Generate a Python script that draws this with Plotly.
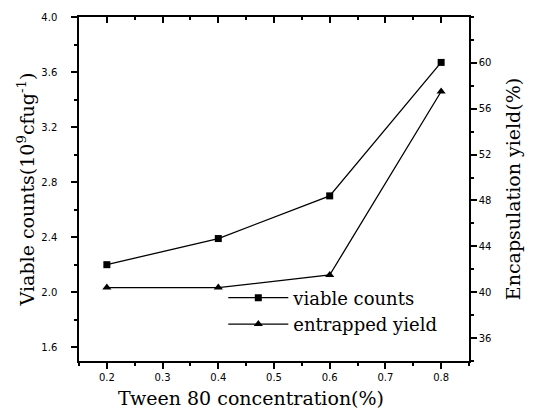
import plotly.graph_objects as go

conc = [0.2, 0.4, 0.6, 0.8]
viable = [2.20, 2.39, 2.70, 3.67]
yield_ = [40.4, 40.4, 41.5, 57.5]

x_ticks = [0.2, 0.3, 0.4, 0.5, 0.6, 0.7, 0.8]
y1_ticks = [1.6, 2.0, 2.4, 2.8, 3.2, 3.6, 4.0]
y2_ticks = [36, 40, 44, 48, 52, 56, 60]

TITLE_FONT = dict(family="DejaVu Serif", size=19, color="black")
TICK_FONT = dict(family="DejaVu Sans", size=10, color="black")

fig = go.Figure()
fig.add_trace(go.Scatter(
    x=conc, y=viable, name="viable counts", mode="lines+markers",
    line=dict(color="black", width=1.3),
    marker=dict(symbol="square", size=7, color="black"),
))
fig.add_trace(go.Scatter(
    x=conc, y=yield_, name="entrapped yield", mode="lines+markers", yaxis="y2",
    line=dict(color="black", width=1.3),
    marker=dict(symbol="triangle-up", size=8, color="black"),
))
fig.add_trace(go.Scatter(x=[0.5], y=[2.0], xaxis="x2", mode="markers",
                         marker=dict(opacity=0), showlegend=False, hoverinfo="skip"))

common = dict(showline=True, linecolor="black", linewidth=1.5, showgrid=False,
              zeroline=False, tickcolor="black", tickwidth=1.5, tickfont=TICK_FONT)

fig.update_layout(
    width=539, height=416,
    margin=dict(l=79, r=70, t=17, b=55),
    paper_bgcolor="white", plot_bgcolor="white",
    xaxis=dict(range=[0.15, 0.85], tickvals=x_ticks, ticktext=[str(v) for v in x_ticks],
               ticks="outside", ticklen=6,
               minor=dict(ticks="outside", ticklen=3, dtick=0.05, tickcolor="black", tickwidth=1.5),
               **common),
    xaxis2=dict(range=[0.15, 0.85], overlaying="x", side="top", tickvals=x_ticks,
                showticklabels=False, ticks="inside", ticklen=6,
                minor=dict(ticks="inside", ticklen=3, dtick=0.05, tickcolor="black", tickwidth=1.5),
                **common),
    yaxis=dict(range=[1.5, 4.0], tickvals=y1_ticks, ticktext=["%.1f" % v for v in y1_ticks],
               ticks="outside", ticklen=6, ticklabelstandoff=12,
               minor=dict(ticks="outside", ticklen=3, dtick=0.2, tickcolor="black", tickwidth=1.5),
               title=dict(text="Viable counts(10<sup>9</sup>cfug<sup>-1</sup>)", font=TITLE_FONT, standoff=2),
               **common),
    yaxis2=dict(range=[34, 64], overlaying="y", side="right", tickvals=y2_ticks,
                ticks="outside", ticklen=6,
                minor=dict(ticks="outside", ticklen=3, dtick=2, tickcolor="black", tickwidth=1.5),
                title=dict(text="Encapsulation yield(%)", font=TITLE_FONT, standoff=16),
                **common),
    legend=dict(x=0.37, y=0.237, xanchor="left", yanchor="top", bgcolor="rgba(0,0,0,0)",
                font=dict(family="DejaVu Serif", size=18, color="black"),
                itemwidth=60, tracegroupgap=0),
    showlegend=True,
    annotations=[dict(text="Tween 80 concentration(%)", xref="paper", yref="paper",
                      x=0.441, y=-0.107, xanchor="center", yanchor="middle",
                      showarrow=False, font=TITLE_FONT)],
)

fig.write_html("out.html")
